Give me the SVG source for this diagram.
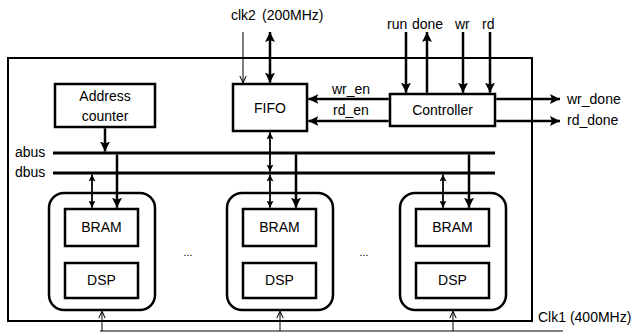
<svg xmlns="http://www.w3.org/2000/svg" width="636" height="333" viewBox="0 0 636 333">
<style>
text{font-family:"Liberation Sans",Arial,sans-serif;font-size:14px;fill:#000}
.m{text-anchor:middle}
.box{fill:#fff;stroke:#000;stroke-width:2.5}
.thick{stroke:#000;stroke-width:2.5;fill:none}
.bus{stroke:#000;stroke-width:3;fill:none}
.thin{stroke:#000;stroke-width:1.8;fill:none}
.hair{stroke:#000;stroke-width:1;fill:none}
</style>
<defs>
<marker id="ah" markerUnits="userSpaceOnUse" viewBox="0 0 10 10" markerWidth="10" markerHeight="10" refX="10" refY="5" orient="auto-start-reverse">
<path d="M0,0 L10,5 L0,10 L2,5 z" fill="#000"/>
</marker>
<marker id="as" markerUnits="userSpaceOnUse" viewBox="0 0 10 10" markerWidth="7" markerHeight="7" refX="10" refY="5" orient="auto-start-reverse">
<path d="M0,0 L10,5 L0,10 L2,5 z" fill="#000"/>
</marker>
<marker id="ao" markerUnits="userSpaceOnUse" viewBox="0 0 10 10" markerWidth="8" markerHeight="8" refX="9.5" refY="5" orient="auto-start-reverse">
<path d="M1,1 L9.5,5 L1,9" fill="none" stroke="#000" stroke-width="1.3"/>
</marker>
</defs>

<g id="outer">
<rect x="8" y="58" width="524" height="263" fill="none" stroke="#000" stroke-width="2"/>
</g>

<g id="address-counter">
<rect class="box" x="55" y="84" width="100" height="43"/>
<text class="m" x="105" y="101">Address</text>
<text class="m" x="105" y="121">counter</text>
</g>

<g id="fifo">
<rect class="box" x="233" y="84" width="74" height="47"/>
<text class="m" x="270" y="113">FIFO</text>
</g>

<g id="controller">
<rect class="box" x="390" y="94" width="105" height="32"/>
<text class="m" x="442.5" y="115">Controller</text>
</g>

<g id="module1">
<rect class="box" x="49" y="193" width="106" height="117" rx="15"/>
<rect class="box" x="65" y="209" width="73" height="37"/>
<text class="m" x="101.5" y="232">BRAM</text>
<rect class="box" x="65" y="263" width="73" height="35"/>
<text class="m" x="101.5" y="285">DSP</text>
</g>

<g id="module2">
<rect class="box" x="227" y="193" width="106" height="117" rx="15"/>
<rect class="box" x="243" y="209" width="73" height="37"/>
<text class="m" x="279.5" y="232">BRAM</text>
<rect class="box" x="243" y="263" width="73" height="35"/>
<text class="m" x="279.5" y="285">DSP</text>
</g>

<g id="module3">
<rect class="box" x="400" y="193" width="106" height="117" rx="15"/>
<rect class="box" x="416" y="209" width="73" height="37"/>
<text class="m" x="452.5" y="232">BRAM</text>
<rect class="box" x="416" y="263" width="73" height="35"/>
<text class="m" x="452.5" y="285">DSP</text>
</g>

<g id="connectors">
<line class="hair" x1="243" y1="32" x2="243" y2="82.7" marker-end="url(#ao)"/>
<line class="thick" x1="270" y1="32" x2="270" y2="82.7" marker-start="url(#ah)" marker-end="url(#ah)"/>
<line class="thick" x1="406" y1="32" x2="406" y2="92.7" marker-end="url(#ah)"/>
<line class="thick" x1="427" y1="92.7" x2="427" y2="32" marker-end="url(#ah)"/>
<line class="thick" x1="463" y1="32" x2="463" y2="92.7" marker-end="url(#ah)"/>
<line class="thick" x1="490" y1="32" x2="490" y2="92.7" marker-end="url(#ah)"/>
<line class="thick" x1="388.7" y1="99" x2="308.3" y2="99" marker-end="url(#ah)"/>
<line class="thick" x1="388.7" y1="121" x2="308.3" y2="121" marker-end="url(#ah)"/>
<line class="thick" x1="496.3" y1="99" x2="560" y2="99" marker-end="url(#ah)"/>
<line class="thick" x1="496.3" y1="121" x2="560" y2="121" marker-end="url(#ah)"/>
<line class="bus" x1="53" y1="153" x2="495" y2="153"/>
<line class="bus" x1="53" y1="173" x2="495" y2="173"/>
<line class="thick" x1="105" y1="128.3" x2="105" y2="151.5" marker-end="url(#ah)"/>
<line class="thin" x1="270" y1="132.3" x2="270" y2="171.5" marker-start="url(#as)" marker-end="url(#as)"/>
<line class="thick" x1="117" y1="154.5" x2="117" y2="207.7" marker-end="url(#ah)"/>
<line class="thick" x1="296" y1="154.5" x2="296" y2="207.7" marker-end="url(#ah)"/>
<line class="thick" x1="469" y1="154.5" x2="469" y2="207.7" marker-end="url(#ah)"/>
<line class="thin" x1="92" y1="174.5" x2="92" y2="207.7" marker-start="url(#as)" marker-end="url(#as)"/>
<line class="thin" x1="270" y1="174.5" x2="270" y2="207.7" marker-start="url(#as)" marker-end="url(#as)"/>
<line class="thin" x1="443" y1="174.5" x2="443" y2="207.7" marker-start="url(#as)" marker-end="url(#as)"/>
<line class="hair" x1="100" y1="331" x2="563" y2="331"/>
<line class="hair" x1="102" y1="331" x2="102" y2="311.3" marker-end="url(#ao)"/>
<line class="hair" x1="280" y1="331" x2="280" y2="311.3" marker-end="url(#ao)"/>
<line class="hair" x1="453" y1="331" x2="453" y2="311.3" marker-end="url(#ao)"/>
</g>

<g id="labels">
<text x="231" y="20">clk2<tspan x="262">(200MHz)</tspan></text>
<text x="387" y="29">run</text>
<text x="412" y="29">done</text>
<text x="455" y="29">wr</text>
<text x="482" y="29">rd</text>
<text x="15" y="157">abus</text>
<text x="15" y="177">dbus</text>
<text class="m" x="351" y="94">wr_en</text>
<text class="m" x="351" y="115">rd_en</text>
<text x="567" y="104">wr_done</text>
<text x="567" y="125">rd_done</text>
<text x="538" y="322">Clk1 (400MHz)</text>
<text class="m" x="188" y="256" style="font-size:11px">...</text>
<text class="m" x="364" y="256" style="font-size:11px">...</text>
</g>
</svg>
